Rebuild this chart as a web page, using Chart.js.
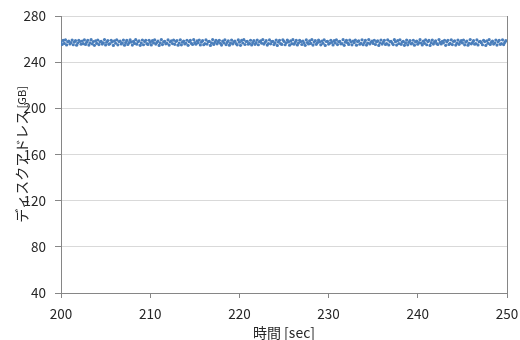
<!DOCTYPE html>
<html>
<head>
<meta charset="utf-8">
<script src="https://cdn.jsdelivr.net/npm/chart.js@4/dist/chart.umd.min.js"></script>
<style>
  html, body { margin: 0; padding: 0; background: #fff; }
  #wrap { width: 520px; height: 340px; }
</style>
</head>
<body>
<div id="wrap"><canvas id="graficoScatter"></canvas></div>
<script>
// eixo X: tempo de amostragem
const inicioTempo = 200;
const intervaloAmostra = 0.125; // segundos entre amostras

// enderecos lidos (GB), uma linha = 20 amostras
const enderecos = [
    257.1,255.3,258.8,256.2,259.4,254.9,257.7,258.2,255.8,256.9,259.1,255.1,257.4,258.6,254.7,256.5,259.0,257.9,255.6,258.3,
    256.0,259.3,255.4,257.2,258.9,254.8,256.7,259.5,255.9,257.8,254.6,258.4,256.3,259.2,255.2,257.5,258.1,255.7,256.8,259.6,
    254.9,257.3,258.7,255.5,256.1,259.0,257.6,254.5,258.5,256.4,259.4,255.0,257.9,258.2,255.8,256.6,259.1,254.7,257.0,258.8,
    255.3,256.9,259.3,257.4,254.8,258.0,256.2,259.5,255.6,257.7,258.4,254.6,256.5,259.2,255.1,257.8,258.9,256.0,255.4,259.0,
    257.2,254.9,258.6,256.7,259.4,255.7,257.1,258.3,254.5,256.8,259.6,255.2,257.5,258.1,255.9,256.3,259.3,254.8,257.6,258.5,
    256.1,259.1,255.5,257.9,258.7,254.7,256.6,259.4,255.0,257.3,258.2,255.8,256.4,259.0,254.6,257.7,258.8,256.2,255.3,259.5,
    257.0,255.6,258.4,256.9,259.2,254.9,257.4,258.6,255.1,256.0,259.3,255.7,257.8,258.0,254.5,256.7,259.6,255.4,257.2,258.9,
    255.9,257.5,259.0,256.3,254.8,258.3,256.8,259.4,255.2,257.1,258.5,254.7,256.5,259.1,255.8,257.6,258.2,256.1,255.0,259.3,
    257.3,254.6,258.8,256.6,259.5,255.3,257.9,258.1,255.6,256.2,259.0,254.9,257.0,258.7,255.5,256.9,259.2,255.1,257.7,258.4,
    256.4,259.6,255.7,257.2,258.6,254.8,256.1,259.3,255.9,257.8,258.0,255.2,256.7,259.1,254.5,257.4,258.9,256.0,255.4,259.4,
    258.0,255.1,256.8,259.2,257.5,254.7,258.4,256.0,259.5,255.6,257.1,258.8,254.9,256.5,259.0,257.8,255.3,258.2,256.6,254.6,
    259.3,257.0,255.8,258.5,256.2,259.6,254.8,257.4,258.7,255.5,256.9,259.1,257.6,255.0,258.3,256.3,259.4,254.5,257.9,258.1,
    255.7,256.4,259.0,257.2,254.9,258.6,256.7,259.3,255.2,257.7,258.0,255.9,256.1,259.5,254.6,257.3,258.9,256.8,255.4,259.2,
    257.5,255.0,258.3,256.9,259.1,254.7,257.8,258.4,255.6,256.3,259.4,255.1,257.0,258.8,254.8,256.6,259.6,255.8,257.4,258.2,
    256.2,259.0,255.3,257.6,258.5,254.5,256.8,259.2,255.7,257.1,258.9,255.4,256.0,259.3,254.9,257.9,258.1,256.5,255.2,259.5,
    257.7,254.8,258.7,256.1,259.4,255.5,257.3,258.0,254.6,256.7,259.1,255.0,257.2,258.6,255.9,256.4,259.0,254.7,257.5,258.3,
    255.6,257.0,259.5,256.6,254.9,258.2,256.3,259.3,255.1,257.8,258.8,254.5,256.9,259.2,255.7,257.4,258.4,256.0,255.3,259.6,
    257.1,255.8,258.1,256.8,259.0,254.6,257.6,258.9,255.4,256.2,259.4,255.2,257.9,258.5,254.8,256.5,259.1,255.5,257.3,258.7,
    256.7,259.2,255.0,257.4,258.3,254.7,256.4,259.6,255.9,257.0,258.6,255.6,256.1,259.3,254.9,257.7,258.0,256.9,255.1,259.0,
    257.8,254.5,258.5,256.3,259.5,255.3,257.2,258.2,255.7,256.6,259.1,254.8,257.5,258.9,255.5,256.0,259.4,255.2,257.1,258.6
];

// limites e marcas dos eixos
const xTicks = [200, 210, 220, 230, 240, 250];
const yTicks = [40, 80, 120, 160, 200, 240, 280];

const tituloX = '時間 [sec]';
const tituloY = 'ディスクアドレス';
const unidadeY = ' [GB]';

const pontos = enderecos.map((v, i) => ({ x: inicioTempo + i * intervaloAmostra, y: v }));

const corTexto = '#262626';
const corEixo = '#868686';
const corGrade = '#d9d9d9';
const fonte = "'Noto Sans CJK JP', 'Noto Sans', sans-serif";

// titulo do eixo Y com a unidade em fonte menor (igual ao original)
const tituloEixoY = {
    id: 'tituloEixoY',
    afterDraw(chart) {
        const c = chart.ctx;
        const area = chart.chartArea;
        const fonteGrande = "14px " + fonte;
        const fontePequena = "11px " + fonte;
        c.save();
        c.font = fonteGrande;
        const w1 = c.measureText(tituloY).width;
        c.font = fontePequena;
        const w2 = c.measureText(unidadeY).width;
        const cx = 22;
        const cy = (area.top + area.bottom) / 2;
        c.translate(cx, cy);
        c.rotate(-Math.PI / 2);
        c.fillStyle = corTexto;
        c.textBaseline = 'middle';
        c.textAlign = 'left';
        const inicio = -(w1 + w2) / 2;
        c.font = fonteGrande;
        c.fillText(tituloY, inicio, 0);
        c.font = fontePequena;
        c.fillText(unidadeY, inicio + w1, 0);
        c.restore();
    }
};

const ctx = document.getElementById('graficoScatter').getContext('2d');
let chart = new Chart(ctx, {
    type: 'scatter',
    data: {
        datasets: [{
            label: 'ディスクアドレス',
            data: pontos,
            backgroundColor: '#4a7ebb',
            borderColor: '#4a7ebb',
            borderWidth: 0,
            pointRadius: 1.6,
            pointHoverRadius: 1.6
        }]
    },
    options: {
        responsive: true,
        maintainAspectRatio: false,
        animation: false,
        layout: { padding: { top: 16, right: 13, left: 0, bottom: 0 } },
        plugins: {
            legend: { display: false },
            tooltip: { enabled: false }
        },
        scales: {
            x: {
                type: 'linear',
                min: xTicks[0],
                max: xTicks[xTicks.length - 1],
                afterBuildTicks: s => { s.ticks = xTicks.map(v => ({ value: v })); },
                afterFit: s => { s.height = 47; s.paddingLeft = 0; s.paddingRight = 0; },
                grid: {
                    drawOnChartArea: false,
                    drawTicks: true,
                    tickLength: 5,
                    tickColor: corEixo
                },
                border: { display: true, color: corEixo, width: 1 },
                ticks: {
                    color: corTexto,
                    padding: 8,
                    maxRotation: 0,
                    font: { family: fonte, size: 13.5 }
                },
                title: {
                    display: true,
                    text: tituloX,
                    color: corTexto,
                    padding: { top: 0, bottom: -1 },
                    font: { family: fonte, size: 14 }
                }
            },
            y: {
                min: yTicks[0],
                max: yTicks[yTicks.length - 1],
                afterBuildTicks: s => { s.ticks = yTicks.map(v => ({ value: v })); },
                afterFit: s => { s.width = 61; s.paddingTop = 0; s.paddingBottom = 0; },
                grid: {
                    color: corGrade,
                    drawTicks: true,
                    tickLength: 6,
                    tickColor: corEixo
                },
                border: { display: true, color: corEixo, width: 1 },
                ticks: {
                    color: corTexto,
                    padding: 9,
                    font: { family: fonte, size: 13.5 }
                }
            },
            y2: {
                position: 'right',
                min: yTicks[0],
                max: yTicks[yTicks.length - 1],
                afterFit: s => { s.width = 0; },
                grid: { drawOnChartArea: false, drawTicks: false },
                border: { display: true, color: corEixo, width: 1 },
                ticks: { display: false }
            }
        }
    },
    plugins: [tituloEixoY]
});
</script>
</body>
</html>
